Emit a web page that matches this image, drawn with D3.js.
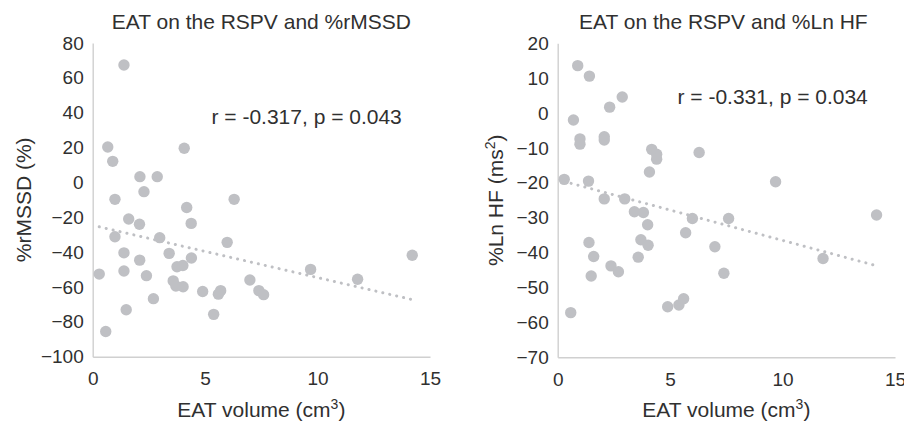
<!DOCTYPE html>
<html><head><meta charset="utf-8">
<script src="https://cdn.jsdelivr.net/npm/d3@7"></script>
<style>
html,body{margin:0;padding:0;background:#fff;}
svg{display:block;font-family:"Liberation Sans",Arial,sans-serif;}
</style></head>
<body><svg id="c" width="904" height="423"></svg>
<script>
// ---- Data ----
const leftTitle = "EAT on the RSPV and %rMSSD";
const leftStat = "r = -0.317, p = 0.043";
const leftX = [1.39,0.67,0.89,4.07,2.10,2.87,2.28,0.99,6.29,4.18,1.60,2.08,4.38,0.99,2.98,5.98,1.39,3.40,14.21,4.39,2.09,3.75,4.01,9.69,0.29,1.39,2.39,3.58,3.70,4.02,6.99,11.78,4.89,5.69,5.59,7.39,7.60,2.70,1.49,5.38,0.58];
const leftY = [67.4,20.3,12.1,19.6,3.3,3.3,-5.3,-9.7,-9.7,-14.4,-21,-24,-23.5,-31.2,-31.7,-34.4,-40.4,-40.7,-41.8,-43.4,-44.6,-48.4,-47.7,-49.9,-52.6,-50.8,-53.5,-56.5,-59.4,-59.9,-56,-55.6,-62.6,-62.1,-64.1,-62.1,-64.4,-66.7,-73.1,-75.7,-85.5];
const leftTrend = {slope: -3.0, intercept: -24.6};
const leftYTicks = [-100,-80,-60,-40,-20,0,20,40,60,80];

const rightTitle = "EAT on the RSPV and %Ln HF";
const rightStat = "r = -0.331, p = 0.034";
const rightX = [0.89,1.41,2.87,2.31,0.70,0.99,0.99,2.07,2.07,4.18,4.40,4.40,6.29,4.08,0.29,1.37,9.69,2.07,2.98,3.41,3.81,5.99,7.60,14.18,4.00,5.69,3.70,4.02,1.39,1.60,3.58,6.99,11.80,2.37,2.70,1.49,7.39,4.89,5.39,5.60,0.58];
const rightY = [13.6,10.6,4.6,1.7,-2,-7.4,-8.9,-6.8,-7.7,-10.4,-11.8,-13.2,-11.3,-16.9,-19,-19.5,-19.7,-24.6,-24.6,-28.3,-28.5,-30.2,-30.2,-29.2,-32,-34.3,-36.3,-37.9,-37.1,-41.1,-41.3,-38.3,-41.7,-43.8,-45.5,-46.7,-45.9,-55.5,-55,-53.2,-57.2];
const rightTrend = {slope: -1.74, intercept: -19.1};
const rightYTicks = [-70,-60,-50,-40,-30,-20,-10,0,10,20];

const xTicks = [0,5,10,15];

// ---- Drawing ----
const svg = d3.select("#c");
const textColor = "#303030";
const dotColor = "#bfc0c4";
const axisColor = "#d0d0d0";

function panel(o) {
  const x = d3.scaleLinear().domain([0,15]).range([o.x0, o.x1]);
  const y = d3.scaleLinear().domain(o.yDomain).range([o.y1, o.y0]);
  const g = svg.append("g");

  // y axis
  const ya = g.append("g").attr("transform", `translate(${o.x0},0)`)
    .call(d3.axisLeft(y).tickValues(o.yTicks).tickSize(0).tickPadding(9).tickFormat(d3.format("d")));
  ya.select(".domain").attr("stroke", axisColor).attr("stroke-width", 1.4);
  ya.selectAll("text").attr("fill", textColor).attr("font-size", 19).attr("font-family","Liberation Sans, Arial, sans-serif");

  // x axis
  const xa = g.append("g").attr("transform", `translate(0,${o.y1})`)
    .call(d3.axisBottom(x).tickValues(xTicks).tickSize(0).tickPadding(15).tickFormat(d3.format("d")));
  xa.select(".domain").attr("stroke", axisColor).attr("stroke-width", 1.4);
  xa.selectAll("text").attr("fill", textColor).attr("font-size", 19).attr("font-family","Liberation Sans, Arial, sans-serif");

  // points
  const pts = o.xs.map((v,i)=>({x:v, y:o.ys[i]}));
  g.append("g").selectAll("circle").data(pts).join("circle")
    .attr("cx", d=>x(d.x)).attr("cy", d=>y(d.y)).attr("r", 5.7)
    .attr("fill", dotColor);

  // trend line
  const ext = d3.extent(o.xs);
  const tl = [ext[0], ext[1]].map(v=>({x:v, y:o.trend.intercept + o.trend.slope*v}));
  g.append("path").datum(tl)
    .attr("d", d3.line().x(d=>x(d.x)).y(d=>y(d.y)))
    .attr("fill","none").attr("stroke", dotColor).attr("stroke-width", 3)
    .attr("stroke-linecap","round").attr("stroke-dasharray","0.1 7");

  // title
  g.append("text").attr("x", (o.x0+o.x1)/2 + o.titleDx).attr("y", 29)
    .attr("text-anchor","middle").attr("font-size", 21).attr("fill", textColor).text(o.title);

  // stat
  g.append("text").attr("x", o.statX).attr("y", o.statY)
    .attr("font-size", 21).attr("fill", textColor).text(o.stat);

  // x title
  const xt = g.append("text").attr("x", (o.x0+o.x1)/2).attr("y", 416.5)
    .attr("text-anchor","middle").attr("font-size", 21).attr("fill", textColor);
  xt.append("tspan").text("EAT volume (cm");
  xt.append("tspan").attr("font-size", 14).attr("dy", -8).text("3");
  xt.append("tspan").attr("dy", 8).text(")");

  // y title
  const yt = g.append("text").attr("transform", `translate(${o.yTitleX},${(o.y0+o.y1)/2}) rotate(-90)`)
    .attr("text-anchor","middle").attr("font-size", 21).attr("fill", textColor);
  o.yTitle(yt);
}

panel({
  x0: 92.7, x1: 430, y0: 43, y1: 356.7, yDomain: [-100, 80], yTicks: leftYTicks,
  xs: leftX, ys: leftY, trend: leftTrend, title: leftTitle, titleDx: 0,
  stat: leftStat, statX: 211.5, statY: 123.5, yTitleX: 31,
  yTitle: t => t.text("%rMSSD (%)")
});
panel({
  x0: 557.7, x1: 895, y0: 43.3, y1: 357.3, yDomain: [-70, 20], yTicks: rightYTicks,
  xs: rightX, ys: rightY, trend: rightTrend, title: rightTitle, titleDx: -3,
  stat: rightStat, statX: 677.5, statY: 103.5, yTitleX: 503,
  yTitle: t => { t.append("tspan").text("%Ln HF (ms"); t.append("tspan").attr("font-size",14).attr("dy",-8).text("2"); t.append("tspan").attr("dy",8).text(")"); }
});
</script>
</body></html>
